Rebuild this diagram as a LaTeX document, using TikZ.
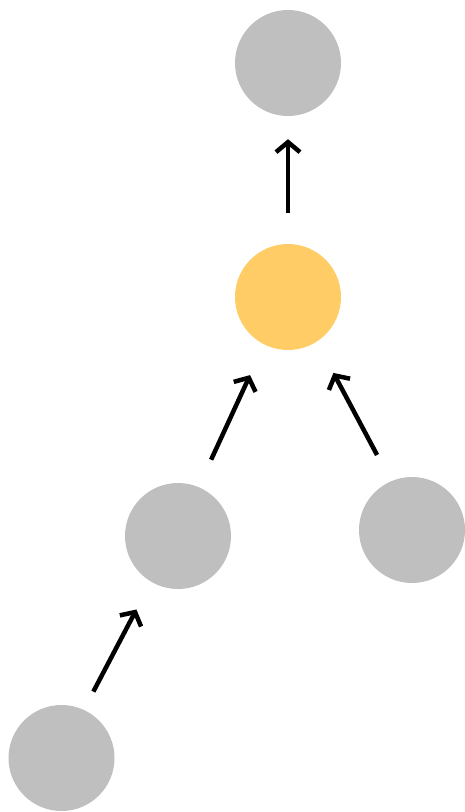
\documentclass[tikz,border=0pt]{standalone}
\usetikzlibrary{arrows.meta}
\definecolor{grayc}{HTML}{BFBFBF}
\definecolor{orangec}{HTML}{FFCC66}
\begin{document}
\begin{tikzpicture}[x=1pt,y=-1pt,
  dot/.style={circle,fill=grayc,draw=none,minimum size=106pt,inner sep=0pt},
  hot/.style={dot,fill=orangec},
  link/.style={line width=4.5pt,-{Straight Barb[length=10pt,width=24pt]}}]
\useasboundingbox (0,0) rectangle (464,812);
\node[dot] (top) at (288,63) {};
\node[hot] (mid) at (288,297) {};
\node[dot] (ml) at (178,536) {};
\node[dot] (rt) at (412,530) {};
\node[dot] (bl) at (61.5,758) {};
\draw[link,shorten <=31pt,shorten >=23pt] (mid) -- (top);
\draw[link,shorten <=84pt,shorten >=86pt] ([xshift=-2pt]ml.center) -- ([xshift=-2pt]mid.center);
\draw[link,shorten <=85pt,shorten >=86pt] ([xshift=5pt]rt.center) -- ([xshift=5pt]mid.center);
\draw[link,shorten <=75pt,shorten >=83pt] ([xshift=-3pt]bl.center) -- ([xshift=-3pt]ml.center);
\end{tikzpicture}
\end{document}
